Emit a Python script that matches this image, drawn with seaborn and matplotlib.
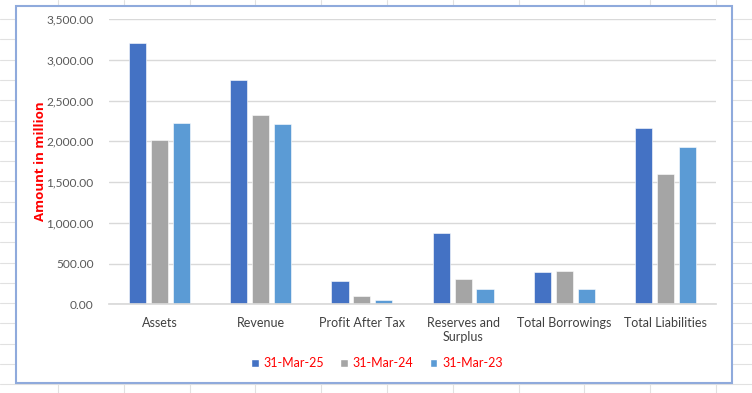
import pandas as pd
import numpy as np
import matplotlib
matplotlib.use('Agg')
import matplotlib.pyplot as plt
import seaborn as sns
from matplotlib.lines import Line2D
from matplotlib.patches import Rectangle, Patch
from matplotlib.ticker import FuncFormatter

# values (amount in million)
categories = ['Assets', 'Revenue', 'Profit After Tax', 'Reserves and\nSurplus',
              'Total Borrowings', 'Total Liabilities']
periods = ['31-Mar-25', '31-Mar-24', '31-Mar-23']
mar25 = [3205, 2751, 286, 877, 393, 2161]
mar24 = [2018, 2325, 100, 311, 409, 1604]
mar23 = [2230, 2214, 50, 188, 184, 1935]
colors = ['#4472C4', '#A5A5A5', '#5B9BD5']

df = pd.DataFrame({
    'category': categories * 3,
    'period': [periods[0]] * 6 + [periods[1]] * 6 + [periods[2]] * 6,
    'value': mar25 + mar24 + mar23,
})

sns.set_theme(style='white')
plt.rcParams['font.family'] = ['Lato', 'DejaVu Sans']

W, H = 752, 393
fig = plt.figure(figsize=(W / 100, H / 100), dpi=100)

# spreadsheet cells behind the chart
grid_col = '#E1E1E1'
for x in np.arange(58, W, 65.8):
    fig.add_artist(Line2D([x / W, x / W], [0, 1], color=grid_col, lw=0.8, zorder=0))
for y in np.arange(19, H, 20.3):
    fig.add_artist(Line2D([0, 1], [1 - y / H, 1 - y / H], color=grid_col, lw=0.8, zorder=0))

# chart area with blue border
fig.add_artist(Rectangle((16 / W, 1 - 383 / H), (732 - 16) / W, (383 - 6) / H,
                         facecolor='white', edgecolor='#8FAADC', lw=1.5, zorder=1))

ax = fig.add_axes([109 / W, 1 - 304.3 / H, 607 / W, 285.3 / H], zorder=2)
ax.patch.set_alpha(0)
sns.barplot(data=df, x='category', y='value', hue='period', palette=colors,
            width=0.65, gap=0.22, ax=ax, legend=False, saturation=1,
            edgecolor='white', linewidth=0.4)

ax.set_ylim(0, 3500)
ax.set_yticks(np.arange(0, 3501, 500))
ax.yaxis.set_major_formatter(FuncFormatter(lambda v, p: f'{v:,.2f}'))
ax.grid(axis='y', color='#D9D9D9', lw=1)
ax.set_axisbelow(True)
for s in ['top', 'right', 'left']:
    ax.spines[s].set_visible(False)
ax.spines['bottom'].set_color('#D9D9D9')
ax.tick_params(axis='y', length=0, pad=11, labelsize=8.6, labelcolor='#595959')
ax.tick_params(axis='x', length=0, pad=9, labelsize=9, labelcolor='#404040')
ax.set_xlabel('')
ax.set_ylabel('Amount in million', color='red', fontsize=9.5, fontweight='bold',
              family=['Open Sans', 'DejaVu Sans'])
ax.yaxis.set_label_coords((47 - 109) / 607, 0.5)

handles = [Patch(facecolor=c) for c in colors]
leg = fig.legend(handles, periods, loc='center', bbox_to_anchor=(377 / W, 1 - 363 / H),
                 ncol=3, frameon=False, fontsize=9, handlelength=0.6, handleheight=0.6,
                 handletextpad=0.4, columnspacing=1.3)
for t in leg.get_texts():
    t.set_color('red')

fig.savefig('out.png', dpi=100)
